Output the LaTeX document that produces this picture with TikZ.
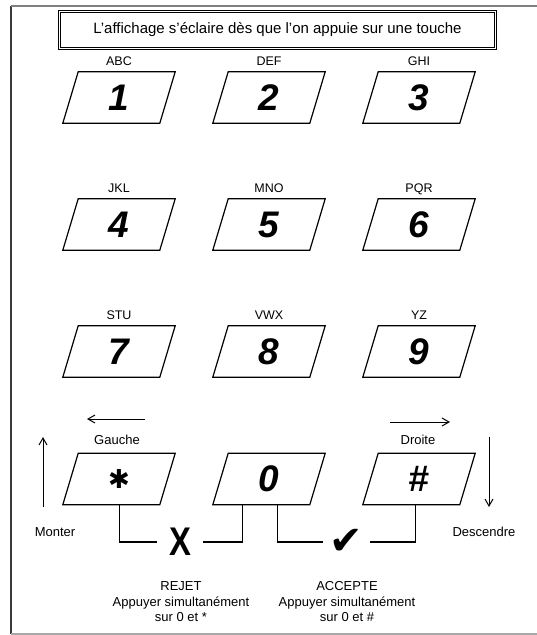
\documentclass[tikz,border=0pt]{standalone}
\usepackage{fontspec}
\setmainfont{Liberation Sans}
\newfontfamily\symfont{DejaVu Sans}
\usepackage{tikz}
\usetikzlibrary{arrows.meta,positioning,calc}
\definecolor{framegray}{HTML}{3A3A3A}
\definecolor{edgegray}{HTML}{A8A8A8}

\begin{document}
\begin{tikzpicture}[x=1pt,y=-1pt,
  keybox/.style={minimum width=112pt,minimum height=51pt,inner sep=0pt,font=\fontsize{37}{37}\selectfont\bfseries\itshape,
    append after command={\pgfextra{\draw[line width=1.2pt] (\tikzlastnode.south west) -- ++(97,0) -- (\tikzlastnode.north east) -- ++(-97,0) -- cycle;}}},
  keylabel/.style={inner sep=1pt,text depth=0pt,font=\fontsize{12.5}{12.5}\selectfont},
  side/.style={inner sep=1pt,font=\fontsize{13}{13}\selectfont},
  note/.style={align=center,inner sep=0pt,font=\fontsize{13}{15.5}\selectfont},
  signbox/.style={inner sep=0pt,minimum width=46pt,minimum height=30pt},
  wire/.style={line width=1.2pt},
  arr/.style={-{Straight Barb[length=7pt,width=8pt]},line width=1pt}
]
\useasboundingbox (0,0) rectangle (536,635);
\draw[framegray,line width=2pt] (11,634) -- (11,6);
\draw[gray,line width=2pt] (11,6) -- (540,6);
\draw[edgegray,line width=1.5pt] (11,634) -- (540,634);
\node[draw,line width=1.2pt,double,double distance=1.3pt,minimum width=436pt,minimum height=37pt,font=\fontsize{15}{15}\selectfont] (title) at (277.5,30) {L'affichage s'éclaire dès que l'on appuie sur une touche};
% touches
\node[keybox] (k1) at (119,97.5) {1};
\node[keybox] (k2) at (269,97.5) {2};
\node[keybox] (k3) at (419,97.5) {3};
\node[keybox] (k4) at (119,224.5) {4};
\node[keybox] (k5) at (269,224.5) {5};
\node[keybox] (k6) at (419,224.5) {6};
\node[keybox] (k7) at (119,351.5) {7};
\node[keybox] (k8) at (269,351.5) {8};
\node[keybox] (k9) at (419,351.5) {9};
\node[keybox] (kstar) at (119,479) {\symfont\fontsize{26}{26}\selectfont\upshape ✱};
\node[keybox] (kzero) at (269,479) {0};
\node[keybox] (khash) at (419,479) {\#};
\node[keylabel,above=5pt of k1] {ABC};
\node[keylabel,above=5pt of k2] {DEF};
\node[keylabel,above=5pt of k3] {GHI};
\node[keylabel,above=5pt of k4] {JKL};
\node[keylabel,above=5pt of k5] {MNO};
\node[keylabel,above=5pt of k6] {PQR};
\node[keylabel,above=5pt of k7] {STU};
\node[keylabel,above=5pt of k8] {VWX};
\node[keylabel,above=5pt of k9] {YZ};
% fleches
\node[side] (gauche) at (117,440) {Gauche};
\node[side] (droite) at (418,440) {Droite};
\node[side] (monter) at (55,532) {Monter};
\node[side] (descendre) at (484,532) {Descendre};
\coordinate (gl) at (87,419);
\coordinate (gr) at (145,419);
\coordinate (dl) at (390,422);
\coordinate (dr) at (450,422);
\coordinate (ub) at (43,507);
\coordinate (ut) at (43,437);
\coordinate (db) at (489,507);
\coordinate (dt) at (489,437);
\draw[arr] (gr)--(gl);
\draw[arr] (dl)--(dr);
\draw[arr] (ub)--(ut);
\draw[arr] (dt)--(db);
% rejet / accepte
\node[signbox,font=\fontsize{40}{40}\selectfont\bfseries] (rejet) at (180,542) {\scalebox{0.82}[1]{X}};
\node[signbox,minimum width=47pt,font=\symfont\fontsize{40}{40}\selectfont] (accept) at (346.5,542) {✔};
\draw[wire] ($(kstar.south west)+(57,0)$) |- (rejet.west);
\draw[wire] (rejet.east) -| ($(kzero.south west)+(30,0)$);
\draw[wire] ($(kzero.south west)+(65,0)$) |- (accept.west);
\draw[wire] (accept.east) -| ($(khash.south west)+(53,0)$);
\node[note] (rejettxt) at (181,602) {REJET\\Appuyer simultanément\\sur 0 et *};
\node[note] (accepttxt) at (347,602) {ACCEPTE\\Appuyer simultanément\\sur 0 et \#};
\end{tikzpicture}
\end{document}
